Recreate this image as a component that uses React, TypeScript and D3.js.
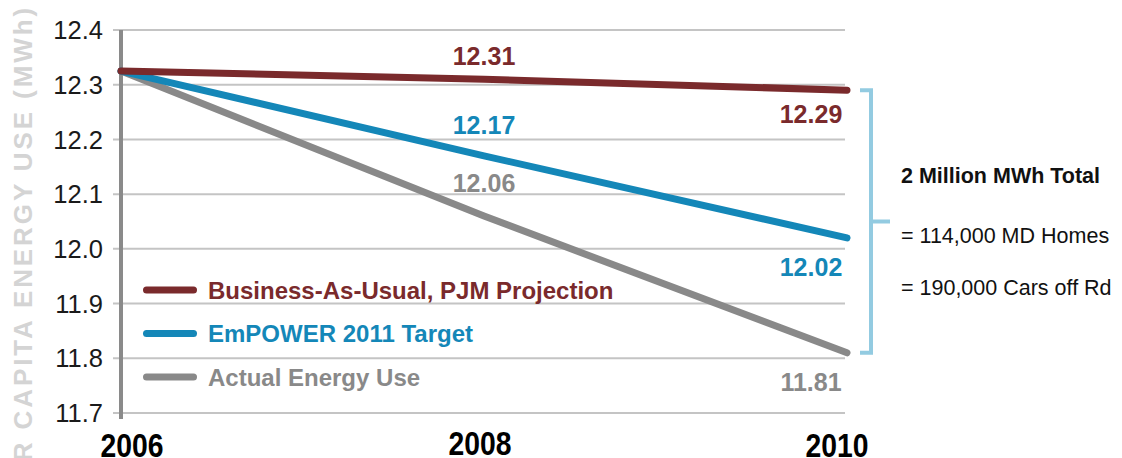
import React from 'react'
import * as d3 from 'd3'

const years = [2006, 2008, 2010]
const yTicks = [11.7, 11.8, 11.9, 12.0, 12.1, 12.2, 12.3, 12.4]

const seriesNames = ['Business-As-Usual, PJM Projection', 'EmPOWER 2011 Target', 'Actual Energy Use']
const seriesColors = ['#7a2a2c', '#1487b8', '#898989']
const bauValues = [12.325, 12.31, 12.29]
const empowerValues = [12.325, 12.17, 12.02]
const actualValues = [12.325, 12.06, 11.81]
const seriesValues = [bauValues, empowerValues, actualValues]

// where the value labels sit relative to the line (px, 2008 / 2010)
const labelOffsets = [
  [[0, -23], [-36, 24]],
  [[0, -31], [-36, 29]],
  [[0, -33], [-36, 29]],
]

const bracketNotes = ['2 Million MWh Total', '= 114,000 MD Homes', '= 190,000 Cars off Rd']

const W = 1122
const H = 458

export default function App() {
  const x = d3.scaleLinear().domain([2006, 2010]).range([121, 847])
  const y = d3.scaleLinear().domain([11.7, 12.4]).range([413, 30])

  const line = d3.line<number>()
    .x((_, i) => x(years[i]))
    .y(d => y(d))

  const font = 'Arial, "Liberation Sans", Helvetica, sans-serif'

  const bTop = y(12.29)
  const bBot = y(11.81)
  const bx = 871

  return (
    <svg width={W} height={H} style={{ position: 'absolute', left: 0, top: 0, background: '#fff' }} fontFamily={font}>
      {/* y axis title, clipped at left like the source */}
      <text
        transform={`translate(32,5) rotate(-90)`}
        textAnchor="end"
        fontSize={26}
        fontWeight="bold"
        letterSpacing={2.9}
        fill="#d4d4d4"
      >PER CAPITA ENERGY USE (MWh)</text>

      {/* grid */}
      {yTicks.map(t => (
        <g key={t}>
          <line x1={113} x2={845} y1={y(t)} y2={y(t)} stroke="#c4c4c4" strokeWidth={2} />
          <text x={103} y={y(t)} dy="0.36em" textAnchor="end" fontSize={25.5} fill="#1a1a1a">{t.toFixed(1)}</text>
        </g>
      ))}
      <line x1={121} x2={121} y1={30} y2={419} stroke="#8a8a8a" strokeWidth={4} />

      {/* x labels */}
      {years.map((yr, i) => (
        <text key={yr} x={x(yr) + [11, -4, -10][i]} y={i === 1 ? 455 : 457} textAnchor="middle"
          fontWeight="bold" fontSize={34} fill="#000"
          textLength={63} lengthAdjust="spacingAndGlyphs">{yr}</text>
      ))}

      {/* lines, drawn bottom-up so BAU is on top */}
      {[2, 1, 0].map(s => (
        <path key={s} d={line(seriesValues[s]) || ''} fill="none" stroke={seriesColors[s]}
          strokeWidth={7} strokeLinecap="round" strokeLinejoin="round" />
      ))}

      {/* value labels */}
      {seriesValues.map((vals, s) => [1, 2].map((i, k) => (
        <text key={`${s}-${i}`} x={x(years[i]) + labelOffsets[s][k][0]} y={y(vals[i]) + labelOffsets[s][k][1]}
          dy="0.36em" textAnchor="middle" fontSize={25} fontWeight="bold" fill={seriesColors[s]}>
          {vals[i].toFixed(2)}
        </text>
      )))}

      {/* legend */}
      {seriesNames.map((n, i) => (
        <g key={n} transform={`translate(0,${290 + i * 43.5})`}>
          <line x1={146.5} x2={193.5} y1={0} y2={0} stroke={seriesColors[i]} strokeWidth={7} strokeLinecap="round" />
          <text x={208} y={0} dy="0.36em" fontSize={24} fontWeight="bold" fill={seriesColors[i]}>{n}</text>
        </g>
      ))}

      {/* bracket */}
      <path d={`M${bx - 11},${bTop} H${bx} V${bBot} H${bx - 11} M${bx},${(bTop + bBot) / 2} H${bx + 19}`}
        fill="none" stroke="#93cbe1" strokeWidth={4} />
      {bracketNotes.map((t, i) => (
        <text key={t} x={901} y={[175, 235, 287][i]} dy="0.36em" fontSize={21.5}
          fontWeight={i === 0 ? 'bold' : 'normal'} fill="#111">{t}</text>
      ))}
    </svg>
  )
}
